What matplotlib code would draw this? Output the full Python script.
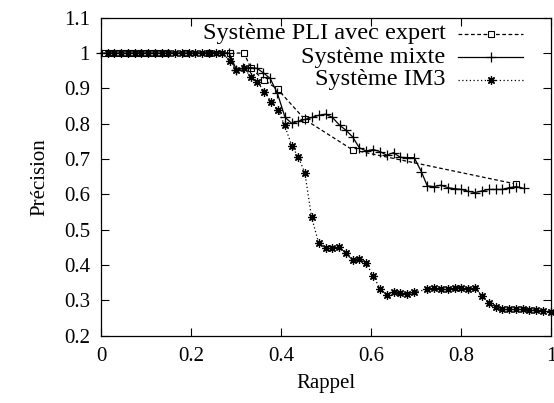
import matplotlib
matplotlib.use("Agg")
import matplotlib.pyplot as plt
from matplotlib.lines import Line2D

plt.rcParams['font.family'] = ['Liberation Serif', 'DejaVu Serif']

# Système PLI avec expert
pli_x = [0.010, 0.025, 0.040, 0.055, 0.070, 0.085, 0.100, 0.115, 0.130, 0.145,
         0.190, 0.240, 0.287, 0.318, 0.333, 0.362, 0.393, 0.453, 0.559, 0.923]
pli_y = [1.0, 1.0, 1.0, 1.0, 1.0, 1.0, 1.0, 1.0, 1.0, 1.0,
         1.0, 1.0, 1.0, 1.0, 0.957, 0.924, 0.897, 0.812, 0.726, 0.629]

# Système mixte
mix_x = [0.000, 0.285, 0.301, 0.316, 0.331, 0.346, 0.361, 0.376, 0.392,
         0.409, 0.424, 0.438, 0.453, 0.469, 0.484, 0.499,
         0.514, 0.530, 0.544, 0.559, 0.574, 0.589,
         0.605, 0.620, 0.635, 0.650, 0.665, 0.680, 0.696,
         0.712, 0.725, 0.740, 0.755, 0.771, 0.786, 0.801, 0.816, 0.831,
         0.847, 0.862, 0.877, 0.892, 0.907, 0.923, 0.939]
mix_y = [1.0, 1.0, 0.952, 0.957, 0.959, 0.957, 0.944, 0.928, 0.886,
         0.818, 0.801, 0.807, 0.812, 0.818, 0.824, 0.827,
         0.818, 0.796, 0.782, 0.763, 0.732, 0.723,
         0.727, 0.721, 0.711, 0.718, 0.705, 0.704, 0.704,
         0.664, 0.624, 0.622, 0.626, 0.619, 0.616, 0.614, 0.609, 0.605,
         0.610, 0.614, 0.614, 0.614, 0.619, 0.622, 0.617]

# Système IM3
im3_x = [0.015, 0.030, 0.045, 0.060, 0.075, 0.090, 0.105, 0.120, 0.135,
         0.150, 0.165, 0.180, 0.195, 0.210, 0.225, 0.240, 0.255, 0.270,
         0.287, 0.301, 0.318, 0.333, 0.347, 0.363, 0.378, 0.393, 0.408,
         0.424, 0.438, 0.453, 0.468, 0.484,
         0.499, 0.514, 0.529, 0.544, 0.559, 0.574, 0.589,
         0.605, 0.620, 0.635, 0.650, 0.665, 0.680, 0.695,
         0.725, 0.740, 0.755, 0.771, 0.786, 0.801, 0.816, 0.831,
         0.847, 0.862, 0.877, 0.892, 0.907, 0.922, 0.937, 0.952, 0.967, 0.983, 0.999]
im3_y = [1.0, 1.0, 1.0, 1.0, 1.0, 1.0, 1.0, 1.0, 1.0,
         1.0, 1.0, 1.0, 1.0, 1.0, 1.0, 1.0, 1.0, 1.0,
         0.977, 0.952, 0.957, 0.933, 0.919, 0.891, 0.862, 0.839, 0.796,
         0.737, 0.707, 0.661, 0.535, 0.461,
         0.449, 0.448, 0.452, 0.433, 0.414, 0.417, 0.405,
         0.370, 0.332, 0.315, 0.323, 0.320, 0.317, 0.323,
         0.331, 0.334, 0.332, 0.331, 0.336, 0.336, 0.333, 0.334,
         0.313, 0.292, 0.282, 0.276, 0.275, 0.275, 0.275, 0.274, 0.272, 0.271, 0.267]

labels = ["Système PLI avec expert", "Système mixte", "Système IM3"]

x_ticks = [0, 0.2, 0.4, 0.6, 0.8, 1]
x_labels = ["0", "0.2", "0.4", "0.6", "0.8", "1"]
y_ticks = [0.2, 0.3, 0.4, 0.5, 0.6, 0.7, 0.8, 0.9, 1.0, 1.1]
y_labels = ["0.2", "0.3", "0.4", "0.5", "0.6", "0.7", "0.8", "0.9", "1", "1.1"]

fig = plt.figure(figsize=(5.54, 4.03), dpi=100)
ax = fig.add_axes([0.1823, 0.167, 0.8123, 0.789])

asterisk = (8, 2, 0)
styles = [
    dict(ls=(0, (3, 2)), marker='s', ms=5, mfc='white', mec='black', mew=0.8),
    dict(ls='-', marker='+', ms=7, mew=0.9),
    dict(ls=(0, (1, 2)), marker=asterisk, ms=6, mew=0.9),
]
series = [(pli_x, pli_y), (mix_x, mix_y), (im3_x, im3_y)]
for (xs, ys), st in zip(series, styles):
    ax.plot(xs, ys, color='black', lw=0.9, clip_on=False, **st)

ax.set_xlim(0, 1)
ax.set_ylim(0.2, 1.1)
ax.set_xticks(x_ticks)
ax.set_xticklabels(x_labels)
ax.set_yticks(y_ticks)
ax.set_yticklabels(y_labels)
ax.tick_params(direction='in', length=6, width=0.8, top=True, right=True,
               labelsize=15, pad=8)
for s in ax.spines.values():
    s.set_linewidth(0.9)

ax.set_xlabel("Rappel", fontsize=15, labelpad=6)
ax.set_ylabel("Précision", fontsize=15, labelpad=10)

# legend: text right-aligned, sample line on the right
rows_y = [0.950, 0.876, 0.805]
for lab, st, ry in zip(labels, styles, rows_y):
    ax.text(0.766, ry, lab, transform=ax.transAxes, ha='right', va='center',
            fontsize=17.5)
    ax.add_line(Line2D([0.794, 0.938], [ry, ry], transform=ax.transAxes,
                       color='black', lw=0.9, ls=st['ls']))
    mk = {k: v for k, v in st.items() if k != 'ls'}
    ax.add_line(Line2D([0.866], [ry], transform=ax.transAxes,
                       color='black', ls='none', **mk))

fig.savefig("out.png", dpi=100)
